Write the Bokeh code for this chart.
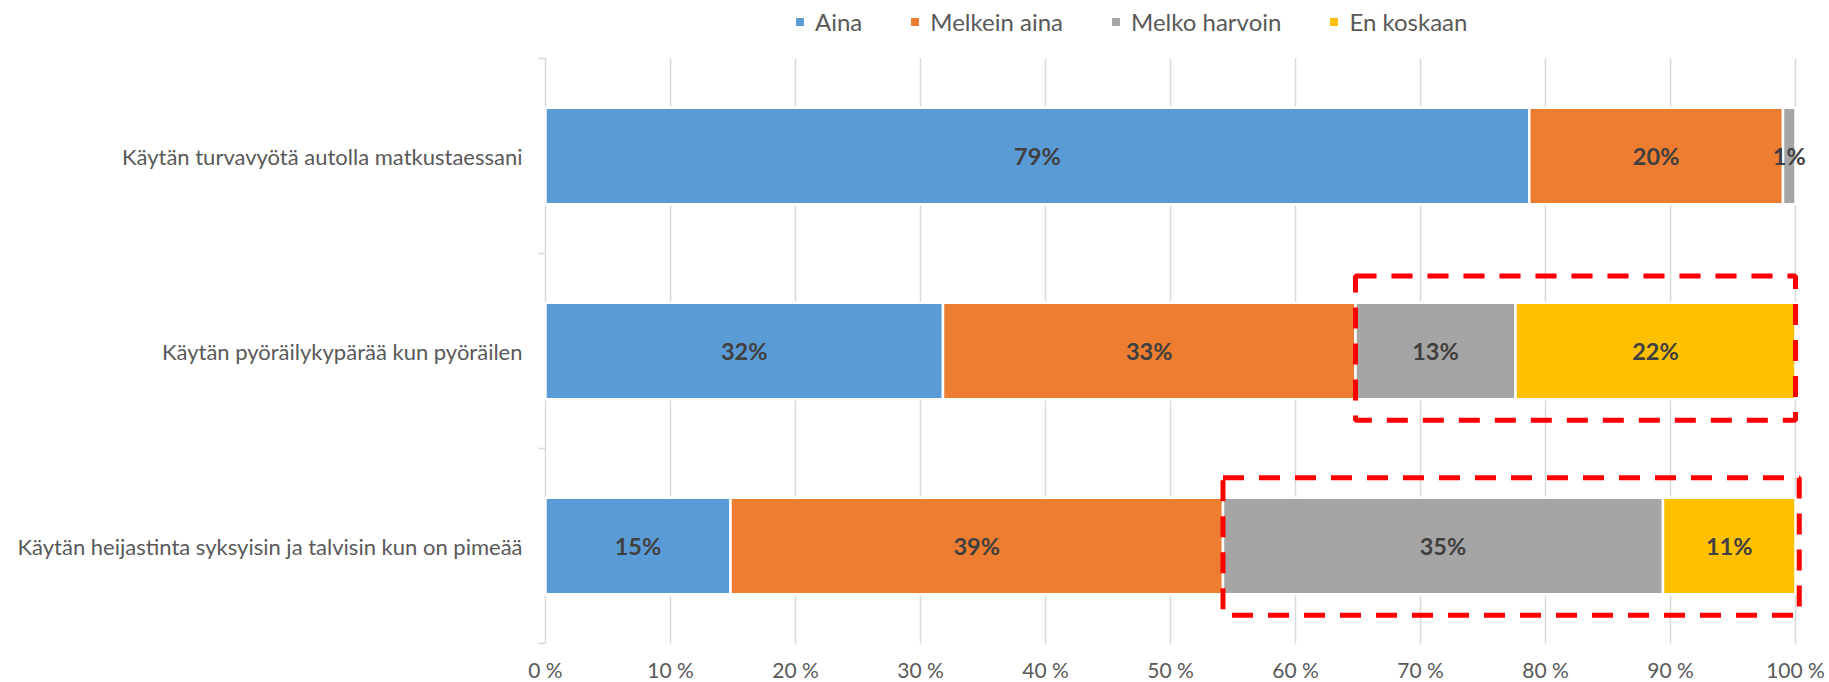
from bokeh.plotting import figure
from bokeh.models import FixedTicker, Legend, LegendItem, ColumnDataSource
from bokeh.core.properties import value
from bokeh.embed import file_html
from bokeh.resources import INLINE

# ---------------- data ----------------
categories = [
    "Käytän turvavyötä autolla matkustaessani",
    "Käytän pyöräilykypärää kun pyöräilen",
    "Käytän heijastinta syksyisin ja talvisin kun on pimeää",
]
series_names = ["Aina", "Melkein aina", "Melko harvoin", "En koskaan"]
aina = [78.7, 31.8, 14.8]
melkein_aina = [20.3, 33.0, 39.4]
melko_harvoin = [1.0, 12.8, 35.2]
en_koskaan = [0.0, 22.4, 10.6]
x_ticks = [0, 10, 20, 30, 40, 50, 60, 70, 80, 90, 100]
x_tick_labels = ["0 %", "10 %", "20 %", "30 %", "40 %", "50 %", "60 %", "70 %", "80 %", "90 %", "100 %"]
boxed_rows = [1, 2]          # rows whose "Melko harvoin"+"En koskaan" part is highlighted
boxed_from_series = 2        # highlight starts at this series

# ---------------- style ----------------
colors = ["#5B9BD5", "#ED7D31", "#A5A5A5", "#FFC000"]
FONT = "Lato"
FS = "22px"
TICK_FS = "21px"
LEG_FS = "24px"
TXT = "#595959"
GRID = "#D9D9D9"
BAR_H = 0.495
box_half = {1: (0.385, 0.355), 2: (0.35, 0.355)}   # (above, below) centre
box_right_pad = {1: 0.0, 2: 0.3}
W, H = 1829, 682
B_LEFT = 525             # frame starts a little left of the value axis
X0_PX = 545              # px of 0 %
PX_PER_X = 12.5          # px per percent
PLOT_TOP, PLOT_BOTTOM = 58, 643   # px of the category area
TICK_PX = 7

series_vals = [aina, melkein_aina, melko_harvoin, en_koskaan]
n = len(categories)
ypos = [n - i - 0.5 for i in range(n)]

px_per_y = (PLOT_BOTTOM - PLOT_TOP) / n
y_start = -(H - PLOT_BOTTOM) / px_per_y
y_end = n + PLOT_TOP / px_per_y
x_start = -(X0_PX - B_LEFT) / PX_PER_X
x_end = x_start + (W - B_LEFT) / PX_PER_X

p = figure(width=W, height=H, x_range=(x_start, x_end), y_range=(y_start, y_end),
           output_backend="svg", toolbar_location=None,
           min_border_left=B_LEFT, min_border_right=0, min_border_top=0, min_border_bottom=0)
p.outline_line_color = None
p.background_fill_color = "white"
p.border_fill_color = "white"

# x axis drawn at y=0 inside the frame (takes no border space)
p.xaxis.fixed_location = 0
p.xaxis.ticker = FixedTicker(ticks=x_ticks)
p.xaxis.major_label_overrides = {t: l for t, l in zip(x_ticks, x_tick_labels)}
p.xaxis.axis_line_color = None
p.xaxis.major_tick_line_color = None
p.xaxis.minor_tick_line_color = None
p.xaxis.major_tick_out = 0
p.xaxis.major_tick_in = 0
p.xaxis.major_label_standoff = 13
p.xaxis.major_label_text_font = FONT
p.xaxis.major_label_text_font_size = TICK_FS
p.xaxis.major_label_text_color = TXT

# category axis: labels only (its line and ticks are drawn at x = 0 below)
p.yaxis.ticker = FixedTicker(ticks=ypos)
p.yaxis.major_label_overrides = {y: c for y, c in zip(ypos, categories)}
p.yaxis.axis_line_color = None
p.yaxis.major_tick_line_color = None
p.yaxis.minor_tick_line_color = None
p.yaxis.major_tick_out = 0
p.yaxis.major_tick_in = 0
p.yaxis.minor_tick_out = 0
p.yaxis.minor_tick_in = 0
p.yaxis.major_label_standoff = 3
p.yaxis.major_label_text_font = FONT
p.yaxis.major_label_text_font_size = FS
p.yaxis.major_label_text_color = TXT

p.grid.grid_line_color = None
# vertical gridlines limited to the category area
grid_x = [t for t in x_ticks if t > 0]
p.segment(x0=grid_x, y0=[0] * len(grid_x), x1=grid_x, y1=[n] * len(grid_x),
          line_color=GRID, line_width=1.5)
# category axis line and its boundary ticks
bounds = list(range(n + 1))
tick_len = TICK_PX / PX_PER_X
p.segment(x0=[0], y0=[0], x1=[0], y1=[n], line_color=GRID, line_width=1.5)
p.segment(x0=[-tick_len] * len(bounds), y0=bounds, x1=[0] * len(bounds), y1=bounds,
          line_color=GRID, line_width=1.5)

# stacked bars
cum = [0.0] * n
legend_items = []
for name, vals, col in zip(series_names, series_vals, colors):
    ys, ls, rs, xs, labs = [], [], [], [], []
    for i in range(n):
        v = vals[i]
        if v > 0:
            ys.append(ypos[i]); ls.append(cum[i]); rs.append(cum[i] + v)
            xs.append(cum[i] + v / 2); labs.append(f"{round(v)}%")
        cum[i] += v
    src = ColumnDataSource(dict(y=ys, left=ls, right=rs, x=xs, lab=labs))
    r = p.hbar(y="y", left="left", right="right", height=BAR_H, source=src,
               fill_color=col, line_color="white", line_width=2.5)
    p.text(x="x", y="y", text="lab", source=src, text_align="center", text_baseline="middle",
           text_font=value(FONT), text_font_style="bold", text_font_size="23.5px", text_color="#404040")
    legend_items.append(LegendItem(label=name, renderers=[r]))

# highlight boxes
bl, br, bt, bb = [], [], [], []
for r in boxed_rows:
    start = sum(series_vals[s][r] for s in range(boxed_from_series))
    total = sum(series_vals[s][r] for s in range(len(series_vals)))
    up, down = box_half[r]
    bl.append(start); br.append(total + box_right_pad[r])
    bt.append(ypos[r] + up); bb.append(ypos[r] - down)
p.quad(left=bl, right=br, top=bt, bottom=bb, fill_color=None,
       line_color="#FF0000", line_width=5, line_dash="21 15")

legend = Legend(items=legend_items, orientation="horizontal", location=(268, H - 36),
                glyph_width=13, glyph_height=13, label_standoff=9, spacing=46,
                padding=0, margin=0, border_line_color=None, background_fill_alpha=0,
                label_text_font=FONT, label_text_font_size=LEG_FS, label_text_color=TXT)
p.add_layout(legend, "center")

open("out.html", "w").write(file_html(p, INLINE))
